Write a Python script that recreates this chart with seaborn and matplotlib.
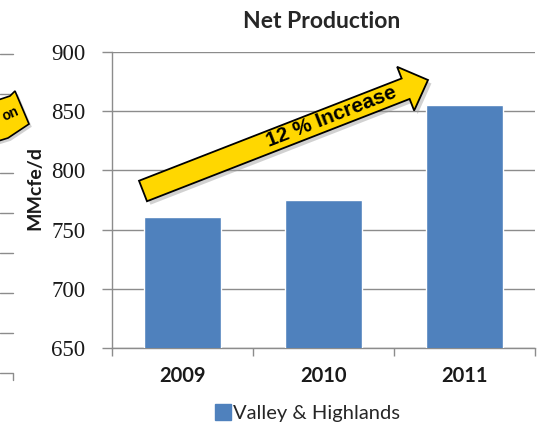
import matplotlib
matplotlib.use("Agg")
import matplotlib.pyplot as plt
import matplotlib.patheffects as pe
from matplotlib.patches import FancyArrow, Polygon
from matplotlib.lines import Line2D
from matplotlib.transforms import Affine2D
import pandas as pd
import seaborn as sns

# Data
years = ["2009", "2010", "2011"]
production = [761, 775, 855]
series_name = "Valley & Highlands"
y_ticks = [650, 700, 750, 800, 850, 900]
title = "Net Production"
y_label = "MMcfe/d"
arrow_text = "12 % Increase"

BAR_BLUE = "#4F81BD"
GRID_GRAY = "#8C8C8C"
ARROW_YELLOW = "#FFD700"

sns.set_theme(style="white")
plt.rcParams["font.family"] = ["Lato", "DejaVu Sans"]

W, H = 538, 426
fig = plt.figure(figsize=(W / 100, H / 100), dpi=100)
ax = fig.add_axes([112 / W, 1 - 348 / H, (535 - 112) / W, (348 - 52) / H])

df = pd.DataFrame({"year": years, "value": production, "series": series_name})
sns.barplot(data=df, x="year", y="value", hue="series", palette=[BAR_BLUE],
            saturation=1, width=0.55, dodge=False, ax=ax, legend=False, zorder=3)

ax.set_ylim(y_ticks[0], y_ticks[-1])
ax.set_xlim(-0.5, len(years) - 0.5)
ax.set_yticks(y_ticks)
ax.set_yticklabels([str(t) for t in y_ticks], fontfamily="Liberation Serif",
                   fontsize=16.5, color="#1a1a1a")
ax.yaxis.grid(True, color=GRID_GRAY, linewidth=1.0, zorder=0)
ax.set_axisbelow(True)

# category separators as minor ticks on the x axis
ax.set_xticks([i - 0.5 for i in range(len(years) + 1)], minor=True)
ax.set_xticks(range(len(years)))
ax.set_xticklabels(years, fontsize=14.5, fontweight="bold", color="#1a1a1a")
ax.tick_params(axis="x", which="major", length=0, pad=13)
ax.tick_params(axis="x", which="minor", length=6, width=1, color=GRID_GRAY,
               direction="out", bottom=True)
ax.tick_params(axis="y", length=7, width=1, color=GRID_GRAY, direction="out",
               left=True, pad=12)

for side in ("top", "right"):
    ax.spines[side].set_visible(False)
for side in ("left", "bottom"):
    ax.spines[side].set_color(GRID_GRAY)
    ax.spines[side].set_linewidth(1.0)

ax.set_xlabel("")
ax.set_ylabel(y_label, fontsize=14, fontweight="bold", color="#1a1a1a")
ax.yaxis.set_label_coords(-0.163, 0.54)

fig.text(322 / W, 1 - 21 / H, title, ha="center", va="center",
         fontsize=16.5, fontweight="bold", color="#262626")

# legend below the axis
handles = [Line2D([0], [0], marker="s", linestyle="none", markersize=11,
                  markerfacecolor=BAR_BLUE, markeredgecolor=BAR_BLUE)]
fig.legend(handles, [series_name], loc="center", bbox_to_anchor=(306 / W, 1 - 413 / H),
           frameon=False, fontsize=14.5, handletextpad=0.0, borderaxespad=0,
           handlelength=1.0)

# pixel coordinates measured from the top-left corner of the figure
px = Affine2D().scale(1 / W, -1 / H).translate(0, 1) + fig.transFigure

# growth arrow
tail = (143, 191)
tip = (428, 80)
head_len = 24
arrow = FancyArrow(tail[0], tail[1], tip[0] - tail[0], tip[1] - tail[1],
                   width=22, head_width=47, head_length=head_len,
                   length_includes_head=True, transform=px,
                   facecolor=ARROW_YELLOW, edgecolor="black", linewidth=1.3,
                   zorder=10, clip_on=False)
arrow.set_path_effects([pe.SimplePatchShadow(offset=(2.5, -2.5), shadow_rgbFace="#9a9a9a",
                                             alpha=0.45), pe.Normal()])
fig.add_artist(arrow)
fig.text(331 / W, 1 - 117 / H, arrow_text, ha="center", va="center",
         rotation=21.3, rotation_mode="anchor", fontsize=15, fontweight="bold",
         fontfamily="Liberation Sans", color="black", zorder=11)

# neighbouring panel edge on the left
for yy in [54, 94, 133, 173, 213, 253, 293, 333]:
    fig.add_artist(Line2D([0, 13], [yy, yy], transform=px, color=GRID_GRAY,
                          linewidth=1.0, zorder=1))
fig.add_artist(Line2D([0, 13, 13], [373, 373, 380], transform=px,
                      color=GRID_GRAY, linewidth=1.0, zorder=1))
frag = Polygon([(-5, 101), (10, 96), (15, 91), (29, 124), (8, 138), (-5, 142)],
               closed=True, transform=px, facecolor=ARROW_YELLOW,
               edgecolor="black", linewidth=1.2, zorder=10)
frag.set_path_effects([pe.SimplePatchShadow(offset=(2, -2), shadow_rgbFace="#9a9a9a",
                                            alpha=0.45), pe.Normal()])
fig.add_artist(frag)
fig.text(11 / W, 1 - 114 / H, "on", ha="center", va="center", rotation=24,
         fontsize=10, fontweight="bold", fontfamily="Liberation Sans",
         color="black", zorder=11)

fig.savefig("out.png", dpi=100, facecolor="white")
